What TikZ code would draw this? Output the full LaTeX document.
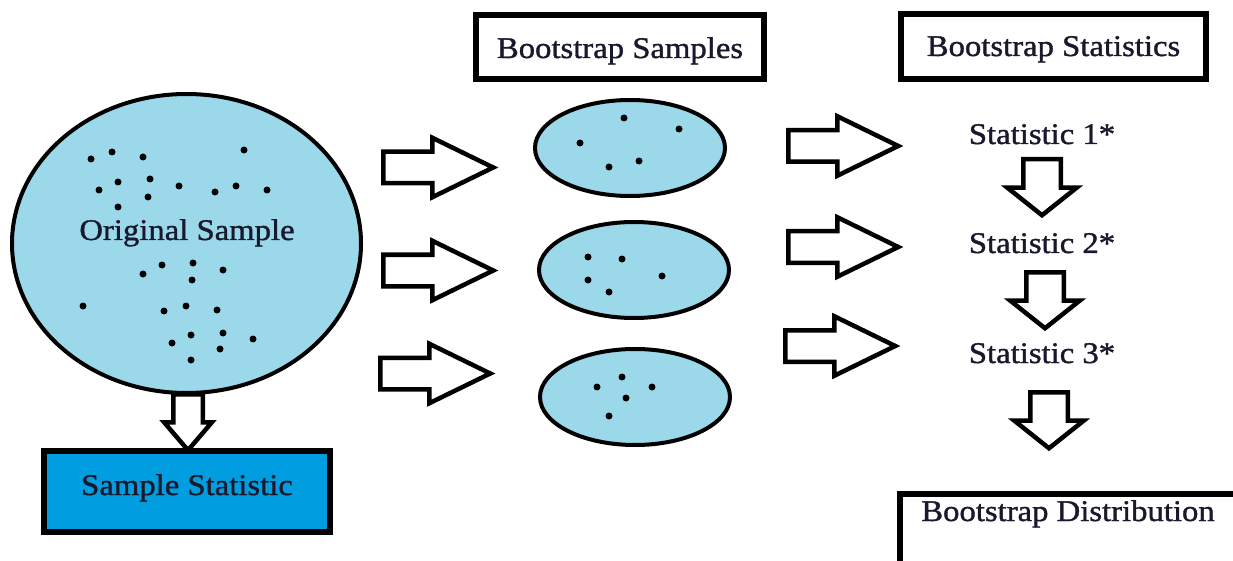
\documentclass[tikz,border=0pt]{standalone}
\usepackage{fontspec}
\setmainfont{Liberation Serif}[FakeStretch=1.09, FakeBold=1.2]
\usetikzlibrary{shapes.geometric,shapes.arrows,positioning,calc}
\definecolor{sampleblue}{RGB}{155,217,234}
\definecolor{statblue}{RGB}{0,158,224}
\definecolor{inkblue}{RGB}{25,25,45}
\tikzset{
    sample/.style={ellipse, draw, line width=4pt, fill=sampleblue, inner sep=0pt},
    titlebox/.style={rectangle, draw, line width=6pt, fill=white, inner sep=0pt},
    txt/.style={font=\fontsize{30}{36}\selectfont, text=inkblue, anchor=base, inner sep=0pt},
    rarrow/.style={single arrow, draw, line width=4.5pt, fill=white, inner xsep=0pt, inner ysep=13.5pt, single arrow head extend=14pt, single arrow tip angle=52, minimum height=110pt, anchor=tail},
    darrow/.style={single arrow, draw, line width=4.5pt, fill=white, inner xsep=0pt, inner ysep=16.5pt, single arrow head extend=16pt, single arrow tip angle=103, minimum height=56pt, anchor=tail, rotate=-90},
    dot/.style={fill=black}
}
\begin{document}
\begin{tikzpicture}[x=1pt, y=-1pt]
    \useasboundingbox (0,0) rectangle (1233,561);
    \clip (0,0) rectangle (1233,561);

    % Original sample and its statistic
    \node [single arrow, draw, line width=4.5pt, fill=white, inner xsep=0pt, inner ysep=12.5pt, single arrow head extend=9pt, single arrow tip angle=81, minimum height=56pt, anchor=tail, rotate=-90] (down0) at (188,392) {};
    \node [sample, minimum width=349pt, minimum height=299pt] (orig) at (186.5,243.5) {};
    \node [txt] (origtext) at (187,240) {Original Sample};
    \foreach \p in {(91,159),(112,152),(143,157),(244,150),(99,190),(118,182),(150,179),(179,186),(215,192),(236,186),(267,190),(148,197),(118,207),
                    (143,274),(162,265),(193,263),(223,270),(192,280),(83,306),(164,311),(186,306),(217,310),(172,343),(191,335),(223,333),(253,339),(220,349),(191,360)}
        \fill [dot] \p circle (3.5);
    \node [titlebox, fill=statblue, minimum width=286pt, minimum height=81pt] (samplestat) at (187,491.5) {};
    \node [txt] at (187,495) {Sample Statistic};

    % Bootstrap samples
    \node [titlebox, minimum width=288pt, minimum height=64pt] (bsamples) at (620,47) {};
    \node [txt] at (620,58) {Bootstrap Samples};
    \node [rarrow] (ra1) at (381,167.5) {};
    \node [rarrow] (ra2) at (381,270.5) {};
    \node [rarrow] (ra3) at (378,373.5) {};
    \node [sample, minimum width=190pt, minimum height=96pt] (s1) at (630,148) {};
    \node [sample, minimum width=190pt, minimum height=96pt] (s2) at (634,270) {};
    \node [sample, minimum width=190pt, minimum height=96pt] (s3) at (635,397) {};
    \foreach \p in {(624,118),(679,129),(580,143),(609,167),(639,161),
                    (588,257),(622,259),(588,280),(662,276),(609,292),
                    (622,377),(597,387),(652,387),(626,398),(609,416)}
        \fill [dot] \p circle (3.5);

    % Bootstrap statistics
    \node [titlebox, minimum width=305pt, minimum height=65pt] (bstats) at (1053.5,46.5) {};
    \node [txt] at (1053.5,56) {Bootstrap Statistics};
    \node [rarrow] (rb1) at (786,146) {};
    \node [rarrow] (rb2) at (786,247) {};
    \node [rarrow] (rb3) at (783,346) {};
    \node [txt] (stat1) at (1042,144) {Statistic 1*};
    \node [txt] (stat2) at (1042,253) {Statistic 2*};
    \node [txt] (stat3) at (1042,363) {Statistic 3*};
    \node [darrow] (d1) at (1042,157) {};
    \node [darrow] (d2) at (1045,270) {};
    \node [darrow] (d3) at (1049,390) {};

    % Bootstrap distribution
    \node [titlebox, anchor=north west, minimum width=348pt, minimum height=84pt] (bdist) at (897,491) {};
    \node [txt] at (1068,521) {Bootstrap Distribution};
\end{tikzpicture}
\end{document}
